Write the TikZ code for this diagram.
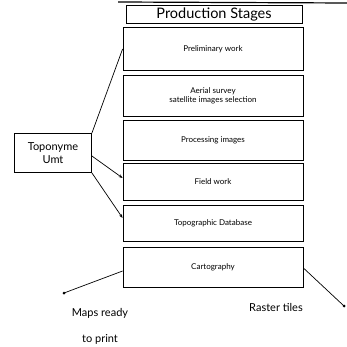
\documentclass[tikz,border=0pt]{standalone}
\usepackage{fontspec}
\setmainfont{Lato}
\usetikzlibrary{arrows.meta}
\begin{document}
\begin{tikzpicture}[x=1pt,y=-1pt,
  stage/.style={draw,line width=0.8pt,minimum width=180pt,inner sep=0pt,font=\fontsize{8}{9.5}\selectfont,align=center},
  link/.style={line width=0.7pt},
  arr/.style={link,-{Stealth[length=4pt,width=3pt]}},
  lbl/.style={font=\fontsize{11}{13}\selectfont,inner sep=0pt}]
\useasboundingbox (0,0) rectangle (347,347);
\draw[line width=1.2pt] (118,2) -- (347,3);
\node[stage,minimum width=176pt,minimum height=18pt,font=\fontsize{14.5}{16}\selectfont] (ps) at (214,14) {Production Stages};
\node[stage,minimum height=43pt] (pw) at (213,49) {Preliminary work};
\node[stage,minimum height=41pt] (as) at (213,96) {Aerial survey\\satellite images selection};
\node[stage,minimum height=40pt] (pi) at (213,140) {Processing images};
\node[stage,minimum height=37pt] (fw) at (213,182) {Field work};
\node[stage,minimum height=36pt] (td) at (213,223) {Topographic Database};
\node[stage,minimum height=40pt] (ca) at (213,267) {Cartography};
\node[draw,line width=0.8pt,minimum width=77pt,minimum height=39pt,inner sep=0pt,font=\fontsize{11}{12.5}\selectfont,align=center] (tu) at (53,153) {Toponyme\\Umt};
\coordinate (d1) at (64,293);
\coordinate (d2) at (344,306);
\draw[link] (tu.north east) -- (pw.west);
\draw[arr] ([yshift=-3pt]tu.east) -- ([yshift=4pt]fw.west);
\draw[arr] (tu.south east) -- ([yshift=5pt]td.west);
\draw[link] ([yshift=-4pt]ca.west) -- (d1);
\fill (d1) circle (1.5pt);
\draw[link] ([yshift=-1pt]ca.east) -- (d2);
\fill (d2) circle (1.5pt);
\node[lbl] (mr) at (100,313) {Maps ready};
\node[lbl] (tp) at (100,339) {to print};
\node[lbl] (rt) at (276,307) {Raster tiles};
\end{tikzpicture}
\end{document}
